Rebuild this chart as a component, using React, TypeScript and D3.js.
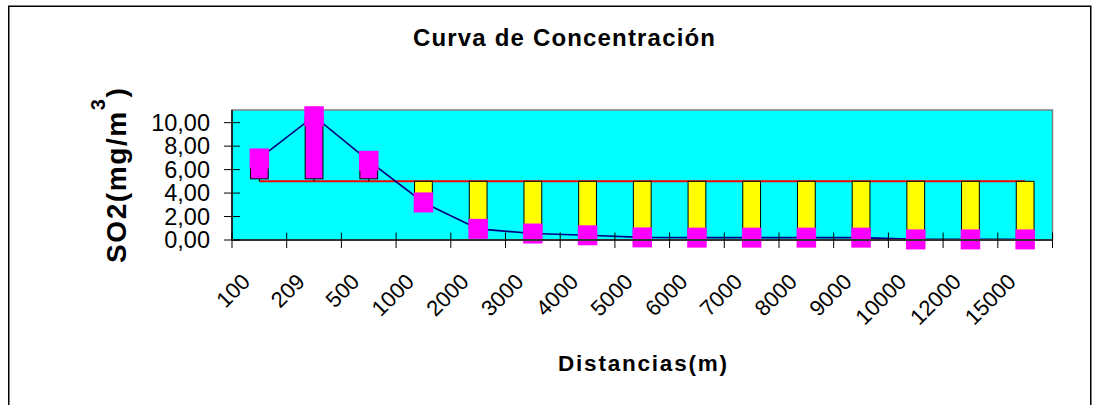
import React from "react";
import * as d3 from "d3";

const CATEGORIES = ["100", "209", "500", "1000", "2000", "3000", "4000", "5000", "6000", "7000", "8000", "9000", "10000", "12000", "15000"];
const SO2_VALUES = [6.95, 10.55, 6.75, 3.2, 0.95, 0.55, 0.4, 0.22, 0.2, 0.2, 0.2, 0.2, 0.05, 0.05, 0.05];
const LIMIT_VALUES = [5, 5, 5, 5, 5, 5, 5, 5, 5, 5, 5, 5, 5, 5, 5];
const Y_TICKS = [0, 2, 4, 6, 8, 10];
const Y_MAX = 11.08;

const TITLE = "Curva de Concentración";
const X_TITLE = "Distancias(m)";

const W = 1107;
const H = 405;
const PLOT = { left: 232, right: 1052.5, top: 110, bottom: 240 };
const FONT = "'Liberation Sans', Arial, Helvetica, sans-serif";

export default function App() {
  const x = d3.scaleBand<string>().domain(CATEGORIES).range([PLOT.left, PLOT.right]).paddingInner(0).paddingOuter(0);
  const y = d3.scaleLinear().domain([0, Y_MAX]).range([PLOT.bottom, PLOT.top]);
  const bw = x.bandwidth();
  const cx = (c: string) => (x(c) as number) + bw / 2;
  const barW = bw * 0.325;
  const markW = 19.5;
  const markH = 20;

  const line = d3
    .line<number>()
    .x((_, i) => cx(CATEGORIES[i]))
    .y((d) => y(d));

  const fmt = (v: number) => d3.format(".2f")(v).replace(".", ",");
  const boundaries = [...CATEGORIES.map((c) => x(c) as number), PLOT.right];

  return (
    <div style={{ position: "absolute", left: 0, top: 0 }}>
      <svg width={W} height={H} style={{ display: "block", background: "#fff" }}>
        {/* chart frame */}
        <rect x={8.75} y={6.25} width={1082} height={500} fill="#fff" stroke="#000" strokeWidth={1.5} />

        {/* title */}
        <text x={564} y={46} textAnchor="middle" fontFamily={FONT} fontWeight="bold" fontSize={24}
          textLength={302} lengthAdjust="spacing">{TITLE}</text>

        {/* plot area */}
        <rect x={PLOT.left} y={PLOT.top} width={PLOT.right - PLOT.left} height={PLOT.bottom - PLOT.top}
          fill="#00FFFF" stroke="#808080" strokeWidth={1.5} />

        {/* limit line */}
        <path d={line(LIMIT_VALUES) || ""} fill="none" stroke="#FF0000" strokeWidth={2} />
        {/* concentration line */}
        <path d={line(SO2_VALUES) || ""} fill="none" stroke="#000080" strokeWidth={1.6} />

        {/* up/down bars between concentration and limit */}
        {CATEGORIES.map((c, i) => {
          const v = SO2_VALUES[i];
          const lim = LIMIT_VALUES[i];
          const xc = cx(c);
          if (v > lim) {
            const top = y(v);
            const bot = y(lim) - 2.5;
            return (
              <g key={c}>
                <rect x={xc - barW / 2} y={top} width={barW} height={bot - top} fill="#FF00FF" stroke="#000" strokeWidth={1} />
                <line x1={xc} x2={xc} y1={bot} y2={y(lim)} stroke="#000" strokeWidth={1} />
              </g>
            );
          }
          const top = y(lim);
          const bot = y(v);
          return <rect key={c} x={xc - barW / 2} y={top} width={barW} height={bot - top} fill="#FFFF00" stroke="#000" strokeWidth={1} />;
        })}

        {/* markers */}
        {CATEGORIES.map((c, i) => (
          <rect key={"m" + c} x={cx(c) - markW / 2} y={y(SO2_VALUES[i]) - markH / 2} width={markW} height={markH} fill="#FF00FF" />
        ))}

        {/* axes */}
        <line x1={PLOT.left} x2={PLOT.right} y1={PLOT.bottom} y2={PLOT.bottom} stroke="#333" strokeWidth={2} />
        <line x1={PLOT.left} x2={PLOT.left} y1={PLOT.top} y2={PLOT.bottom} stroke="#000" strokeWidth={1.5} />

        {/* x ticks */}
        {boundaries.map((bx, i) => (
          <line key={"xt" + i} x1={bx} x2={bx} y1={PLOT.bottom - 7.5} y2={PLOT.bottom + 8} stroke="#000" strokeWidth={1} />
        ))}
        {/* y ticks & labels */}
        {Y_TICKS.map((t) => (
          <g key={"yt" + t}>
            <line x1={PLOT.left - 8} x2={PLOT.left + 8} y1={y(t)} y2={y(t)} stroke="#000" strokeWidth={1} />
            <text x={210} y={y(t)} dy="0.35em" textAnchor="end" fontFamily={FONT} fontSize={23.5}>{fmt(t)}</text>
          </g>
        ))}

        {/* x labels */}
        {CATEGORIES.map((c) => (
          <text key={"xl" + c} transform={`translate(${cx(c) - 8},283) rotate(-45)`} textAnchor="end" fontFamily={FONT} fontSize={22}>
            {c}
          </text>
        ))}

        {/* x title */}
        <text x={642.5} y={371} textAnchor="middle" fontFamily={FONT} fontWeight="bold" fontSize={22.5}
          textLength={169} lengthAdjust="spacing">{X_TITLE}</text>

        {/* y title */}
        <text transform="translate(126,263) rotate(-90)" fontFamily={FONT} fontWeight="bold" fontSize={28} letterSpacing={1.6}>
          SO2(mg/m
          <tspan fontSize={20} dy={-21}>3</tspan>
          <tspan dy={21}>)</tspan>
        </text>
      </svg>
    </div>
  );
}
